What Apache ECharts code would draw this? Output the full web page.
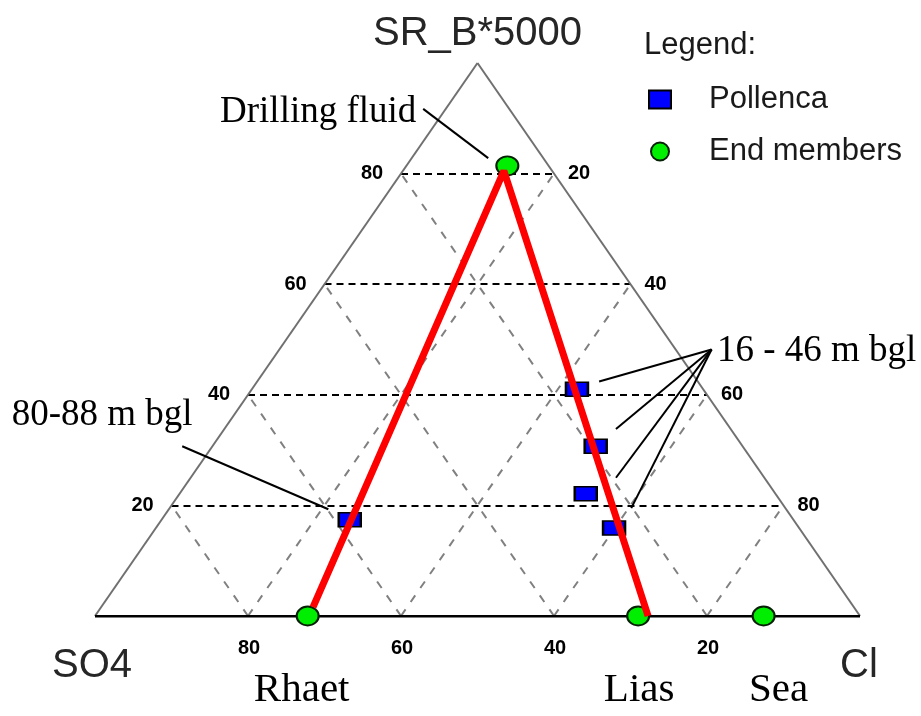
<!DOCTYPE html>
<html>
<head>
<meta charset="utf-8">
<title>Ternary plot SR_B*5000 - SO4 - Cl</title>
<script src="https://cdn.jsdelivr.net/npm/echarts@6/dist/echarts.min.js"></script>
<style>
  html, body { margin: 0; padding: 0; background: #fff; }
  #chart { width: 921px; height: 716px; }
</style>
</head>
<body>
<div id="chart"></div>
<script>
// compositions in percent: Cl and SR_B*5000 (SO4 is the remainder)
const pollencaCl = [42.5, 50.1, 53.1, 59.9, 24.6];
const pollencaSr = [41.0, 30.7, 22.1, 15.9, 17.4];

const endNames = ['Drilling fluid', 'Rhaet', 'Lias', 'Sea'];
const endCl = [13.2, 27.8, 71.0, 87.4];
const endSr = [81.4, 0, 0, 0];

// red mixing lines: Rhaet -> drilling fluid -> Lias
const mixCl = [27.7, 13.2, 72.3];
const mixSr = [1.6, 80.5, 0];

const gridTicks = [20, 40, 60, 80];
const cornerNames = ['SO4', 'Cl', 'SR_B*5000'];

// annotation texts with their leader lines (plot units, 0-100)
const notes = [
  { text: 'Drilling fluid', from: [42.9, 91.7], to: [[51.4, 82.8]], offset: [-105, 3] },
  { text: '80-88 m bgl', from: [11.4, 30.7], to: [[30.5, 19.3]], offset: [-80, -31] },
  { text: '16 - 46 m bgl', from: [80.6, 48.2],
    to: [[65.9, 42.4], [68.1, 33.8], [68.1, 25.0], [70.1, 19.5]], offset: [105, 2] },
];

const SANS = "'Liberation Sans', Arial, sans-serif";
const SERIF = "'Liberation Serif', 'Times New Roman', serif";

// ternary -> plot coordinates (SO4 corner at x=0, Cl corner at x=100, apex at y=100)
const toXY = (cl, sr) => [cl + sr / 2, sr];

const edges = [
  { coords: [toXY(0, 0), toXY(0, 100)] },
  { coords: [toXY(0, 100), toXY(100, 0)] },
];
const hLines = gridTicks.map((t) => ({ coords: [toXY(0, t), toXY(100 - t, t)] }));
const dLines = [];
gridTicks.forEach((c) => {
  dLines.push({ coords: [toXY(c, 0), toXY(c, 100 - c)] });
  dLines.push({ coords: [toXY(c, 0), toXY(0, c)] });
});
const leaderLines = [];
notes.forEach((n) => n.to.forEach((p) => leaderLines.push({ coords: [n.from, p] })));

function textSeries(points, labelStyle) {
  return {
    type: 'scatter',
    silent: true,
    clip: false,
    z: 6,
    symbolSize: 1,
    itemStyle: { color: 'rgba(0,0,0,0)', opacity: 1 },
    label: Object.assign({ show: true, position: 'inside', formatter: '{b}' }, labelStyle),
    data: points.map((p) => ({ name: p.text, value: p.xy, label: { offset: p.offset } })),
  };
}

const tickLabels = [];
gridTicks.forEach((t) => {
  tickLabels.push({ text: String(t), xy: toXY(0, t), offset: [-29, 0] });
  tickLabels.push({ text: String(100 - t), xy: toXY(100 - t, t), offset: [25, 0] });
  tickLabels.push({ text: String(100 - t), xy: toXY(t, 0), offset: [1, 32] });
});

const cornerOffsets = [[-3, 50], [-1, 50], [0, -29]];
const cornerLabels = cornerNames.map((name, i) => ({
  text: name,
  xy: [toXY(0, 0), toXY(100, 0), toXY(0, 100)][i],
  offset: cornerOffsets[i],
}));

const endOffsets = [null, [-6, 74], [1, 74], [15, 74]];
const endLabels = endNames.slice(1).map((name, i) => ({
  text: name, xy: toXY(endCl[i + 1], endSr[i + 1]), offset: endOffsets[i + 1],
}));

const noteLabels = notes.map((n) => ({ text: n.text, xy: n.from, offset: n.offset }));

const chart = echarts.init(document.getElementById('chart'));

chart.setOption({
  animation: false,
  backgroundColor: '#fff',
  title: {
    text: 'Legend:',
    left: 644,
    top: 30,
    padding: 0,
    textStyle: { fontFamily: SANS, fontSize: 31, fontWeight: 'normal', color: '#1a1a1a' },
  },
  legend: {
    orient: 'vertical',
    left: 643,
    top: 79,
    itemGap: 21,
    itemWidth: 22,
    itemHeight: 18,
    selectedMode: false,
    data: [
      { name: 'Pollenca', icon: 'rect' },
      { name: 'End members', icon: 'circle' },
    ],
    textStyle: { fontFamily: SANS, fontSize: 31, color: '#1a1a1a', padding: [0, 0, 0, 33] },
  },
  grid: { left: 95, right: 61, top: 63, bottom: 100, outerBoundsMode: 'none' },
  xAxis: { type: 'value', min: 0, max: 100, show: false },
  yAxis: { type: 'value', min: 0, max: 100, show: false },
  series: [
    {
      type: 'lines',
      coordinateSystem: 'cartesian2d',
      silent: true,
      z: 1,
      data: dLines,
      lineStyle: { color: '#808080', width: 2, type: [8, 9], opacity: 1 },
    },
    {
      type: 'lines',
      coordinateSystem: 'cartesian2d',
      silent: true,
      z: 2,
      data: hLines,
      lineStyle: { color: '#000', width: 2, type: [7, 5], opacity: 1 },
    },
    {
      type: 'lines',
      coordinateSystem: 'cartesian2d',
      silent: true,
      z: 2,
      data: edges,
      lineStyle: { color: '#707070', width: 2, opacity: 1 },
    },
    {
      type: 'lines',
      coordinateSystem: 'cartesian2d',
      silent: true,
      z: 2,
      data: [{ coords: [toXY(0, 0), toXY(100, 0)] }],
      lineStyle: { color: '#000', width: 3, opacity: 1 },
    },
    {
      type: 'lines',
      coordinateSystem: 'cartesian2d',
      silent: true,
      z: 2,
      data: leaderLines,
      lineStyle: { color: '#000', width: 2, opacity: 1 },
    },
    {
      name: 'Pollenca',
      type: 'scatter',
      z: 3,
      clip: false,
      symbol: 'rect',
      symbolSize: [22, 14],
      itemStyle: { color: '#0000ff', borderColor: '#000', borderWidth: 2, opacity: 1 },
      data: pollencaCl.map((c, i) => toXY(c, pollencaSr[i])),
    },
    {
      name: 'End members',
      type: 'scatter',
      z: 3,
      clip: false,
      symbol: 'circle',
      symbolSize: [22, 19],
      itemStyle: { color: '#00ee00', borderColor: '#062006', borderWidth: 2, opacity: 1 },
      data: endCl.map((c, i) => toXY(c, endSr[i])),
    },
    {
      name: 'mixing',
      type: 'line',
      z: 4,
      clip: false,
      symbol: 'none',
      silent: true,
      lineStyle: { color: '#ff0000', width: 7 },
      data: mixCl.map((c, i) => toXY(c, mixSr[i])),
    },
    textSeries(tickLabels, { fontFamily: SANS, fontSize: 20, fontWeight: 'bold', color: '#000' }),
    textSeries(cornerLabels, { fontFamily: SANS, fontSize: 40, color: '#262626' }),
    textSeries(endLabels, { fontFamily: SERIF, fontSize: 41, color: '#000' }),
    textSeries(noteLabels, { fontFamily: SERIF, fontSize: 37, color: '#000' }),
  ],
});
</script>
</body>
</html>
